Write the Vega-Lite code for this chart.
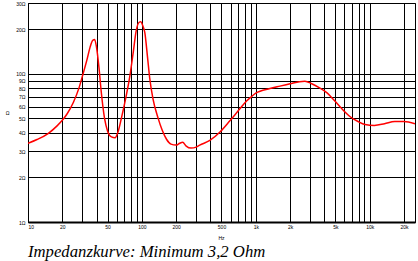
{
  "$schema": "https://vega.github.io/schema/vega-lite/v6.json",
  "width": 387,
  "height": 219,
  "autosize": {"type": "none"},
  "padding": {"left": 28, "top": 3, "right": 3, "bottom": 39},
  "background": "white",
  "config": {
    "view": {"stroke": "black", "strokeWidth": 1},
    "axis": {
      "grid": true, "gridColor": "black", "gridOpacity": 1, "gridWidth": 1,
      "ticks": false, "domainColor": "black",
      "labelFont": "Liberation Sans", "labelFontSize": 5, "labelColor": "black",
      "titleFont": "Liberation Sans", "titleFontSize": 5, "titleFontWeight": "normal", "titleColor": "black"
    }
  },
  "title": {
    "text": "Impedanzkurve: Minimum 3,2 Ohm",
    "orient": "bottom", "anchor": "start", "frame": "group",
    "font": "Liberation Serif", "fontStyle": "italic", "fontWeight": "normal",
    "fontSize": 16.7, "color": "black", "offset": 4
  },
  "data": {"values": [
    {"f": 10, "z": 3.4}, {"f": 12, "z": 3.6}, {"f": 15, "z": 3.95}, {"f": 18, "z": 4.45},
    {"f": 20, "z": 4.85}, {"f": 22, "z": 5.35}, {"f": 25, "z": 6.4}, {"f": 28, "z": 8.0},
    {"f": 30, "z": 9.6}, {"f": 33, "z": 12.5}, {"f": 35, "z": 15.0}, {"f": 37, "z": 16.8},
    {"f": 38.5, "z": 17.0}, {"f": 40, "z": 15.0}, {"f": 42, "z": 11.0}, {"f": 44, "z": 7.5},
    {"f": 47, "z": 5.0}, {"f": 50, "z": 4.1}, {"f": 54, "z": 3.75}, {"f": 58, "z": 3.7},
    {"f": 62, "z": 4.1}, {"f": 66, "z": 5.0}, {"f": 72, "z": 6.8}, {"f": 78, "z": 9.4},
    {"f": 84, "z": 14.0}, {"f": 89, "z": 19.4}, {"f": 95, "z": 22.3}, {"f": 98, "z": 22.4},
    {"f": 102, "z": 21.0}, {"f": 106, "z": 19.0}, {"f": 112, "z": 13.0}, {"f": 117, "z": 9.4},
    {"f": 125, "z": 6.8}, {"f": 139, "z": 5.0}, {"f": 150, "z": 4.2}, {"f": 165, "z": 3.6},
    {"f": 180, "z": 3.35}, {"f": 200, "z": 3.3}, {"f": 215, "z": 3.4}, {"f": 228, "z": 3.45},
    {"f": 245, "z": 3.25}, {"f": 270, "z": 3.15}, {"f": 300, "z": 3.2}, {"f": 322, "z": 3.3},
    {"f": 395, "z": 3.55}, {"f": 485, "z": 4.05}, {"f": 590, "z": 4.8}, {"f": 725, "z": 5.8},
    {"f": 830, "z": 6.55}, {"f": 914, "z": 7.0}, {"f": 1000, "z": 7.4}, {"f": 1330, "z": 7.95},
    {"f": 1630, "z": 8.25}, {"f": 2000, "z": 8.55}, {"f": 2420, "z": 8.84}, {"f": 2700, "z": 8.9},
    {"f": 3100, "z": 8.56}, {"f": 3600, "z": 8.06}, {"f": 4200, "z": 7.45}, {"f": 4900, "z": 6.6},
    {"f": 5700, "z": 5.8}, {"f": 6700, "z": 5.15}, {"f": 7900, "z": 4.76}, {"f": 9100, "z": 4.54},
    {"f": 11000, "z": 4.48}, {"f": 13500, "z": 4.6}, {"f": 16600, "z": 4.76}, {"f": 20000, "z": 4.76},
    {"f": 25000, "z": 4.6}
  ]},
  "mark": {"type": "line", "color": "#ff0000", "strokeWidth": 1.5, "interpolate": "monotone", "clip": true},
  "encoding": {
    "x": {
      "field": "f", "type": "quantitative",
      "scale": {"type": "log", "domain": [10, 25000], "nice": false},
      "axis": {
        "values": [10, 20, 30, 40, 50, 60, 70, 80, 90, 100, 200, 300, 400, 500, 600, 700, 800, 900, 1000, 2000, 3000, 4000, 5000, 6000, 7000, 8000, 9000, 10000, 20000],
        "labelExpr": "indexof([10,20,50,100,200,500],datum.value) >= 0 ? datum.value + '' : (indexof([1000,2000,5000,10000,20000],datum.value) >= 0 ? (datum.value/1000) + 'k' : '')",
        "domainWidth": 2, "labelPadding": 2,
        "title": "Hz", "titleX": 193, "titleY": 13
      }
    },
    "y": {
      "field": "z", "type": "quantitative",
      "scale": {"type": "log", "domain": [1, 30], "nice": false},
      "axis": {
        "values": [1, 2, 3, 4, 5, 6, 7, 8, 9, 10, 20, 30],
        "labelExpr": "datum.value + 'Ω'",
        "labelPadding": 3, "labelFlush": false,
        "title": "Ω", "titleAngle": 0, "titleX": -21, "titleY": 112
      }
    }
  }
}
